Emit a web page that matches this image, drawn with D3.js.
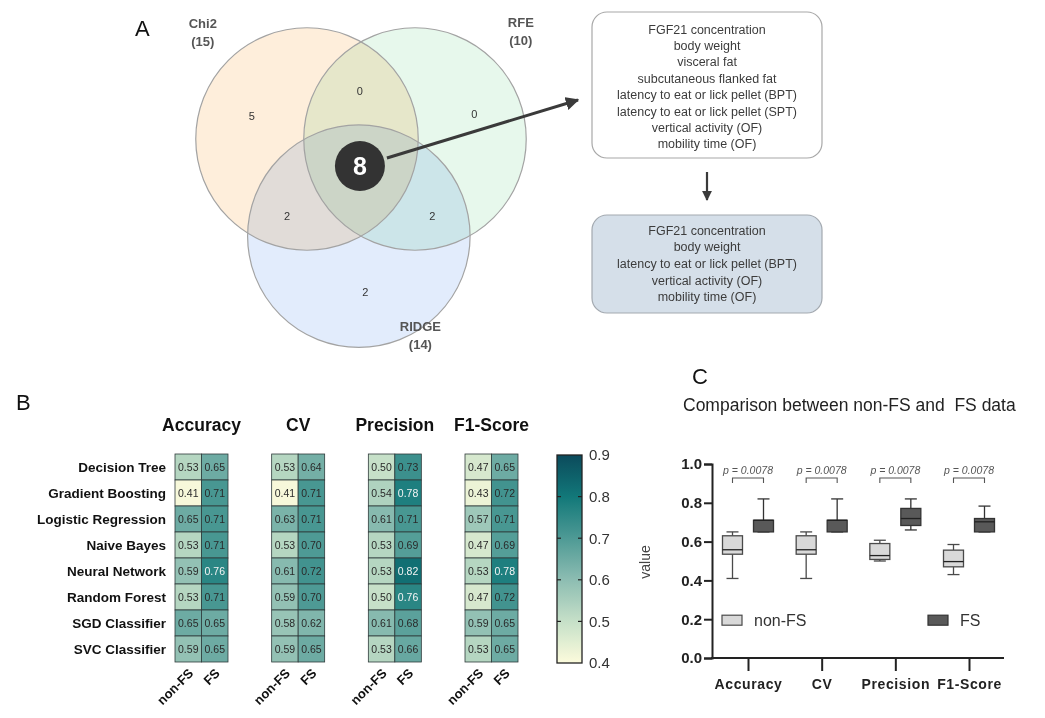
<!DOCTYPE html>
<html>

<head>
    <meta charset="utf-8">
    <style>
        body {
            margin: 0;
            background: #fff;
            font-family: Arial, 'Liberation Sans', sans-serif;
        }

        svg {
            display: block;
        }

        .ylab .tick text {
            font-size: 15px;
            font-weight: bold;
            fill: #222;
        }

        .ylab .tick line,
        .ylab .domain {
            stroke: #222;
            stroke-width: 2;
        }

        .xlab .tick line {
            stroke: #222;
            stroke-width: 2;
        }

        .xlab .domain {
            display: none;
        }

        .xlab .tick text {
            font-size: 14px;
            font-weight: bold;
            letter-spacing: 0.6px;
            fill: #222;
        }

        .cbar .tick text {
            font-size: 15px;
            fill: #333;
        }

        .cbar .domain {
            display: none;
        }
    </style>
</head>

<body>
    <svg width="1045" height="718"></svg>

    <script src="https://d3js.org/d3.v7.min.js"></script>
    <script>

        // ---------- data ----------
        // panel A
        let vennSets = ["Chi2", "RFE", "RIDGE"];
        let vennTotals = [15, 10, 14];
        let vennRegions = ["Chi2 only", "Chi2 & RFE", "RFE only", "Chi2 & RIDGE", "RFE & RIDGE", "RIDGE only"];
        let vennCounts = [5, 0, 0, 2, 2, 2];
        let vennCore = 8;

        let featuresCommon = [
            "FGF21 concentration",
            "body weight",
            "visceral fat",
            "subcutaneous flanked fat",
            "latency to eat or lick pellet (BPT)",
            "latency to eat or lick pellet (SPT)",
            "vertical activity (OF)",
            "mobility time (OF)"
        ];
        let featuresFinal = [
            "FGF21 concentration",
            "body weight",
            "latency to eat or lick pellet (BPT)",
            "vertical activity (OF)",
            "mobility time (OF)"
        ];

        // panel B
        let models = ["Decision Tree", "Gradient Boosting", "Logistic Regression", "Naive Bayes",
            "Neural Network", "Random Forest", "SGD Classifier", "SVC Classifier"];
        let metrics = ["Accuracy", "CV", "Precision", "F1-Score"];
        let groups = ["non-FS", "FS"];

        let accuracyNonFS = [0.53, 0.41, 0.65, 0.53, 0.59, 0.53, 0.65, 0.59];
        let accuracyFS = [0.65, 0.71, 0.71, 0.71, 0.76, 0.71, 0.65, 0.65];
        let cvNonFS = [0.53, 0.41, 0.63, 0.53, 0.61, 0.59, 0.58, 0.59];
        let cvFS = [0.64, 0.71, 0.71, 0.70, 0.72, 0.70, 0.62, 0.65];
        let precisionNonFS = [0.50, 0.54, 0.61, 0.53, 0.53, 0.50, 0.61, 0.53];
        let precisionFS = [0.73, 0.78, 0.71, 0.69, 0.82, 0.76, 0.68, 0.66];
        let f1NonFS = [0.47, 0.43, 0.57, 0.47, 0.53, 0.47, 0.59, 0.53];
        let f1FS = [0.65, 0.72, 0.71, 0.69, 0.78, 0.72, 0.65, 0.65];

        let colorTicks = [0.4, 0.5, 0.6, 0.7, 0.8, 0.9];

        // panel C (box statistics, order = metrics)
        let nonFSMin = [0.41, 0.41, 0.50, 0.43];
        let nonFSQ1 = [0.535, 0.535, 0.508, 0.47];
        let nonFSMed = [0.558, 0.558, 0.528, 0.497];
        let nonFSQ3 = [0.63, 0.63, 0.59, 0.556];
        let nonFSMax = [0.65, 0.65, 0.607, 0.585];

        let fsMin = [0.65, 0.65, 0.66, 0.65];
        let fsQ1 = [0.65, 0.65, 0.683, 0.65];
        let fsMed = [0.71, 0.71, 0.719, 0.702];
        let fsQ3 = [0.71, 0.71, 0.771, 0.719];
        let fsMax = [0.82, 0.82, 0.82, 0.783];

        let pValues = ["0.0078", "0.0078", "0.0078", "0.0078"];
        let yTicks = [0.0, 0.2, 0.4, 0.6, 0.8, 1.0];

        // ---------- setup ----------
        let svg = d3.select("svg");

        // panel letters
        svg.append("text").attr("x", 135).attr("y", 36).text("A")
            .style("font-size", "22px").style("fill", "#111");
        svg.append("text").attr("x", 16).attr("y", 410).text("B")
            .style("font-size", "22px").style("fill", "#111");
        svg.append("text").attr("x", 692).attr("y", 384).text("C")
            .style("font-size", "22px").style("fill", "#111");

        // ================= panel A : venn =================
        // venn units -> pixels
        let vx = d3.scaleLinear().domain([0, 1]).range([307, 415]);
        let vy = d3.scaleLinear().domain([0, 1]).range([139, 247]);
        let vr = 1.03 * (vx(1) - vx(0));

        let circles = [
            { name: vennSets[0], total: vennTotals[0], u: 0, v: 0, fill: "#feeedb" },
            { name: vennSets[1], total: vennTotals[1], u: 1, v: 0, fill: "#e7f8ec" },
            { name: vennSets[2], total: vennTotals[2], u: 0.48, v: 0.9, fill: "#e2ecfc" }
        ];

        let venn = svg.append("g");
        venn.selectAll("circle.set")
            .data(circles)
            .join("circle")
            .attr("class", "set")
            .attr("cx", d => vx(d.u))
            .attr("cy", d => vy(d.v))
            .attr("r", vr)
            .style("fill", d => d.fill)
            .style("mix-blend-mode", "multiply");

        venn.selectAll("circle.edge")
            .data(circles)
            .join("circle")
            .attr("class", "edge")
            .attr("cx", d => vx(d.u))
            .attr("cy", d => vy(d.v))
            .attr("r", vr)
            .style("fill", "none")
            .style("stroke", "#a3a3a3")
            .style("stroke-width", 1.2);

        // set names
        let setLabelPos = [[-0.965, -1.03], [1.98, -1.04], [1.05, 1.78]];
        circles.forEach((c, i) => {
            let t = venn.append("text")
                .attr("x", vx(setLabelPos[i][0]))
                .attr("y", vy(setLabelPos[i][1]))
                .style("text-anchor", "middle")
                .style("font-size", "13px")
                .style("font-weight", "bold")
                .style("fill", "#555");
            t.append("tspan").attr("x", vx(setLabelPos[i][0])).text(c.name);
            t.append("tspan").attr("x", vx(setLabelPos[i][0])).attr("dy", 18).text("(" + c.total + ")");
        });

        // region counts
        let regionPos = [[-0.51, -0.18], [0.49, -0.41], [1.55, -0.19], [-0.185, 0.75], [1.16, 0.75], [0.54, 1.45]];
        venn.selectAll("text.region")
            .data(vennCounts)
            .join("text")
            .attr("class", "region")
            .attr("x", (d, i) => vx(regionPos[i][0]))
            .attr("y", (d, i) => vy(regionPos[i][1]))
            .style("text-anchor", "middle")
            .style("font-size", "11px")
            .style("fill", "#333")
            .text(d => d);

        // core
        let core = { u: 0.49, v: 0.25 };
        venn.append("circle")
            .attr("cx", vx(core.u)).attr("cy", vy(core.v)).attr("r", 25)
            .style("fill", "#333");
        venn.append("text")
            .attr("x", vx(core.u)).attr("y", vy(core.v) + 9)
            .style("text-anchor", "middle")
            .style("font-size", "25px")
            .style("font-weight", "bold")
            .style("fill", "#fff")
            .text(vennCore);

        // arrow markers
        let defs = svg.append("defs");
        defs.append("marker")
            .attr("id", "head")
            .attr("viewBox", "0 0 10 10")
            .attr("refX", 9).attr("refY", 5)
            .attr("markerWidth", 4.5).attr("markerHeight", 4.5)
            .attr("orient", "auto")
            .append("path").attr("d", "M0,0 L10,5 L0,10 z").style("fill", "#3a3a3a");

        venn.append("line")
            .attr("x1", vx(core.u) + 27).attr("y1", vy(core.v) - 8)
            .attr("x2", 578).attr("y2", 100)
            .style("stroke", "#3a3a3a")
            .style("stroke-width", 3)
            .attr("marker-end", "url(#head)");

        // feature boxes
        let boxX = 592, boxW = 230, boxCX = boxX + boxW / 2;
        let box1 = svg.append("g");
        box1.append("rect")
            .attr("x", boxX).attr("y", 12).attr("width", boxW).attr("height", 146)
            .attr("rx", 15)
            .style("fill", "#fff").style("stroke", "#a8a8a8").style("stroke-width", 1.2);
        box1.selectAll("text")
            .data(featuresCommon)
            .join("text")
            .attr("x", boxCX)
            .attr("y", (d, i) => 33.5 + i * 16.4)
            .style("text-anchor", "middle")
            .style("font-size", "12.5px")
            .style("fill", "#3c3c3c")
            .text(d => d);

        svg.append("line")
            .attr("x1", boxCX).attr("y1", 172).attr("x2", boxCX).attr("y2", 200)
            .style("stroke", "#3a3a3a").style("stroke-width", 2.2)
            .attr("marker-end", "url(#head)");

        let box2 = svg.append("g");
        box2.append("rect")
            .attr("x", boxX).attr("y", 215).attr("width", boxW).attr("height", 98)
            .attr("rx", 15)
            .style("fill", "#d5dfe9").style("stroke", "#a3a9b0").style("stroke-width", 1.2);
        box2.selectAll("text")
            .data(featuresFinal)
            .join("text")
            .attr("x", boxCX)
            .attr("y", (d, i) => 234.5 + i * 16.7)
            .style("text-anchor", "middle")
            .style("font-size", "12.5px")
            .style("fill", "#3c3c3c")
            .text(d => d);

        // ================= panel B : heatmaps =================
        let heatValues = {
            "Accuracy": [accuracyNonFS, accuracyFS],
            "CV": [cvNonFS, cvFS],
            "Precision": [precisionNonFS, precisionFS],
            "F1-Score": [f1NonFS, f1FS]
        };

        let color = d3.scaleLinear()
            .domain([0.4, 0.5, 0.6, 0.7, 0.8, 0.9])
            .range(["#fcfbdc", "#c6e0c8", "#8dbdb2", "#4e9a95", "#127879", "#0b4a5c"])
            .clamp(true);

        let mx = d3.scalePoint().domain(metrics).range([175, 465]);
        let gx = d3.scaleBand().domain(groups).range([0, 53]);
        let ry = d3.scaleBand().domain(models).range([454, 662]);

        let heat = svg.append("g");

        metrics.forEach(m => {
            let g = heat.append("g").attr("transform", `translate(${mx(m)},0)`);

            g.append("text")
                .attr("x", gx.bandwidth())
                .attr("y", 431)
                .style("text-anchor", "middle")
                .style("font-size", "17.5px")
                .style("font-weight", "bold")
                .style("fill", "#111")
                .text(m);

            let cells = [];
            groups.forEach((grp, gi) => {
                models.forEach((mod, ri) => {
                    cells.push({ group: grp, model: mod, value: heatValues[m][gi][ri] });
                });
            });

            g.selectAll("rect")
                .data(cells)
                .join("rect")
                .attr("x", d => gx(d.group))
                .attr("y", d => ry(d.model))
                .attr("width", gx.bandwidth())
                .attr("height", ry.bandwidth())
                .style("fill", d => color(d.value))
                .style("stroke", "#2f3b3b")
                .style("stroke-width", 0.8);

            g.selectAll("text.cell")
                .data(cells)
                .join("text")
                .attr("class", "cell")
                .attr("x", d => gx(d.group) + gx.bandwidth() / 2)
                .attr("y", d => ry(d.model) + ry.bandwidth() / 2 + 3.8)
                .style("text-anchor", "middle")
                .style("font-size", "10.5px")
                .style("fill", d => d.value >= 0.75 ? "#f4f4f4" : "#2a2a2a")
                .text(d => d3.format(".2f")(d.value));

            g.selectAll("text.col")
                .data(groups)
                .join("text")
                .attr("class", "col")
                .attr("transform", d => `translate(${gx(d) + gx.bandwidth() / 2 + 6},674) rotate(-45)`)
                .style("text-anchor", "end")
                .style("font-size", "13px")
                .style("font-weight", "bold")
                .style("fill", "#111")
                .text(d => d);
        });

        heat.selectAll("text.row")
            .data(models)
            .join("text")
            .attr("class", "row")
            .attr("x", 166)
            .attr("y", d => ry(d) + ry.bandwidth() / 2 + 5)
            .style("text-anchor", "end")
            .style("font-size", "13.5px")
            .style("font-weight", "bold")
            .style("fill", "#111")
            .text(d => d);

        // colour bar
        let cbX = 557, cbW = 25;
        let cy = d3.scaleLinear().domain([0.4, 0.9]).range([663, 455]);

        let grad = defs.append("linearGradient")
            .attr("id", "cbgrad")
            .attr("x1", 0).attr("y1", 1).attr("x2", 0).attr("y2", 0);
        d3.range(0, 1.0001, 0.05).forEach(t => {
            grad.append("stop")
                .attr("offset", t)
                .attr("stop-color", color(0.4 + t * 0.5));
        });

        svg.append("rect")
            .attr("x", cbX).attr("y", cy(0.9))
            .attr("width", cbW).attr("height", cy(0.4) - cy(0.9))
            .style("fill", "url(#cbgrad)")
            .style("stroke", "#222").style("stroke-width", 1.3);

        svg.selectAll("line.cbtick")
            .data(colorTicks.slice(1, -1).flatMap(v => [[v, cbX, cbX + 4], [v, cbX + cbW - 4, cbX + cbW]]))
            .join("line")
            .attr("class", "cbtick")
            .attr("x1", d => d[1]).attr("x2", d => d[2])
            .attr("y1", d => cy(d[0])).attr("y2", d => cy(d[0]))
            .style("stroke", "#222").style("stroke-width", 1.2);

        svg.append("g")
            .attr("class", "cbar")
            .attr("transform", `translate(${cbX + cbW},0)`)
            .call(d3.axisRight(cy).tickValues(colorTicks).tickSize(0).tickPadding(7).tickFormat(d3.format(".1f")));

        // ================= panel C : box plots =================
        let y = d3.scaleLinear().domain([0, 1]).range([658, 464]);
        let x = d3.scalePoint().domain(metrics).range([748, 969]);
        let off = 15.5, bw = 20, cap = 12;

        svg.append("text")
            .attr("x", 683).attr("y", 411)
            .style("font-size", "17.5px")
            .style("fill", "#222")
            .style("white-space", "pre")
            .text("Comparison between non-FS and  FS data");

        // y-axis title
        svg.append("text")
            .attr("transform", "translate(650,562) rotate(-90)")
            .style("text-anchor", "middle")
            .style("font-size", "14px")
            .style("fill", "#444")
            .text("value");

        let boxData = [];
        metrics.forEach((m, i) => {
            boxData.push({ metric: m, dx: -off, fill: "#d9d9d9", stroke: "#4a4a4a",
                min: nonFSMin[i], q1: nonFSQ1[i], med: nonFSMed[i], q3: nonFSQ3[i], max: nonFSMax[i] });
            boxData.push({ metric: m, dx: off, fill: "#595959", stroke: "#333",
                min: fsMin[i], q1: fsQ1[i], med: fsMed[i], q3: fsQ3[i], max: fsMax[i] });
        });

        let boxes = svg.append("g").selectAll("g")
            .data(boxData)
            .join("g")
            .attr("transform", d => `translate(${x(d.metric) + d.dx},0)`);

        boxes.append("line")
            .attr("y1", d => y(d.max)).attr("y2", d => y(d.q3))
            .style("stroke", d => d.stroke).style("stroke-width", 1.3);
        boxes.append("line")
            .attr("y1", d => y(d.min)).attr("y2", d => y(d.q1))
            .style("stroke", d => d.stroke).style("stroke-width", 1.3);
        boxes.append("line")
            .attr("x1", -cap / 2).attr("x2", cap / 2)
            .attr("y1", d => y(d.max)).attr("y2", d => y(d.max))
            .style("stroke", d => d.stroke).style("stroke-width", 1.3);
        boxes.append("line")
            .attr("x1", -cap / 2).attr("x2", cap / 2)
            .attr("y1", d => y(d.min)).attr("y2", d => y(d.min))
            .style("stroke", d => d.stroke).style("stroke-width", 1.3);
        boxes.append("rect")
            .attr("x", -bw / 2).attr("width", bw)
            .attr("y", d => y(d.q3)).attr("height", d => Math.max(y(d.q1) - y(d.q3), 1))
            .style("fill", d => d.fill)
            .style("stroke", d => d.stroke).style("stroke-width", 1.3);
        boxes.append("line")
            .attr("x1", -bw / 2).attr("x2", bw / 2)
            .attr("y1", d => y(d.med)).attr("y2", d => y(d.med))
            .style("stroke", "#222").style("stroke-width", 1.3);

        // significance brackets
        let sig = svg.append("g").selectAll("g")
            .data(metrics)
            .join("g")
            .attr("transform", d => `translate(${x(d)},0)`);
        sig.append("path")
            .attr("d", `M${-off},483 V478 H${off} V483`)
            .style("fill", "none").style("stroke", "#555").style("stroke-width", 1.1);
        sig.append("text")
            .attr("y", 474)
            .style("text-anchor", "middle")
            .style("font-size", "10.5px")
            .style("font-style", "italic")
            .style("fill", "#555")
            .text((d, i) => "p = " + pValues[i]);

        // axes
        svg.append("g")
            .attr("class", "ylab")
            .attr("transform", "translate(712,0)")
            .call(d3.axisLeft(y).tickValues(yTicks).tickSize(8).tickPadding(2).tickFormat(d3.format(".1f")));

        svg.append("line")
            .attr("x1", 711).attr("x2", 1004)
            .attr("y1", y(0)).attr("y2", y(0))
            .style("stroke", "#222").style("stroke-width", 2);

        svg.append("g")
            .attr("class", "xlab")
            .attr("transform", `translate(0,${y(0)})`)
            .call(d3.axisBottom(x).tickSize(13).tickPadding(8));

        // legend
        let legend = [
            { label: groups[0], fill: "#d9d9d9", stroke: "#4a4a4a", x: 722 },
            { label: groups[1], fill: "#595959", stroke: "#333", x: 928 }
        ];
        let lg = svg.append("g").selectAll("g")
            .data(legend)
            .join("g")
            .attr("transform", d => `translate(${d.x},${y(0.2) - 4})`);
        lg.append("rect")
            .attr("width", 20).attr("height", 10)
            .style("fill", d => d.fill).style("stroke", d => d.stroke).style("stroke-width", 1.2);
        lg.append("text")
            .attr("x", 32).attr("y", 11)
            .style("font-size", "16px")
            .style("fill", "#333")
            .text(d => d.label);

    </script>
</body>

</html>
